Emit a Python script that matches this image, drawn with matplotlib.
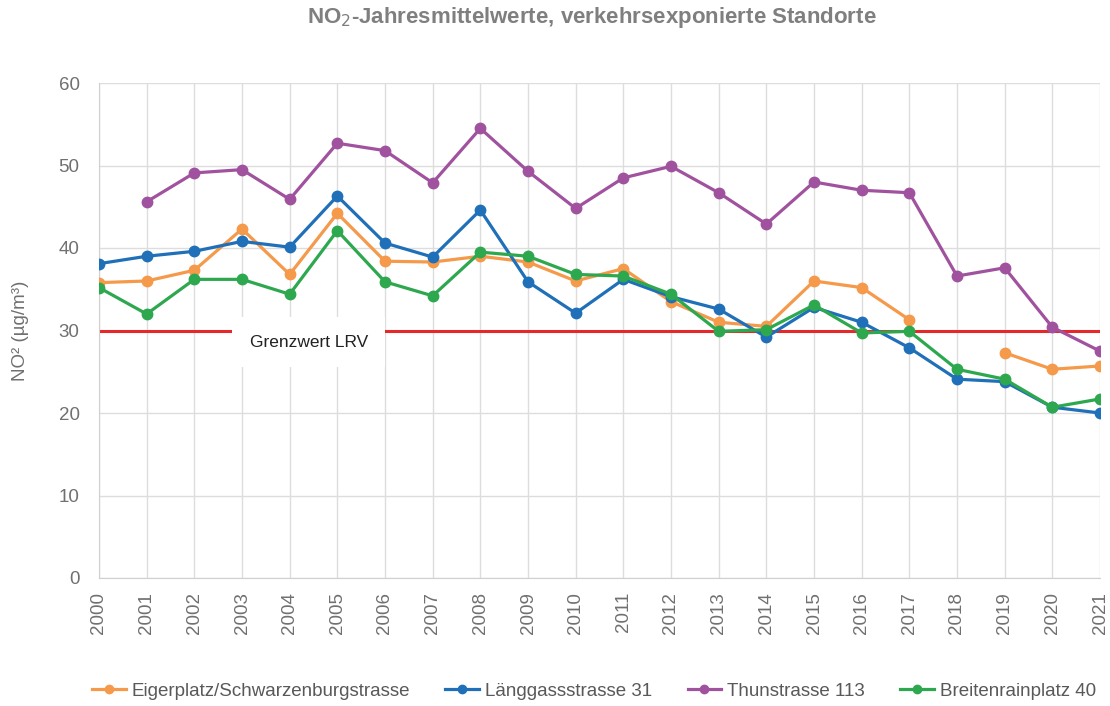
import matplotlib.pyplot as plt
import numpy as np

plt.rcParams['font.family'] = ['Liberation Sans', 'DejaVu Sans']

years = list(range(2000, 2022))

eigerplatz = [35.8, 36.0, 37.3, 42.3, 36.8, 44.2, 38.4, 38.3, 39.0, 38.3, 36.0,
              37.5, 33.5, 31.0, 30.5, 36.0, 35.2, 31.3, np.nan, 27.3, 25.3, 25.7]
laenggass = [38.1, 39.0, 39.6, 40.8, 40.1, 46.3, 40.6, 38.9, 44.6, 35.9, 32.1,
             36.2, 34.1, 32.6, 29.2, 32.8, 31.0, 27.9, 24.1, 23.8, 20.7, 20.0]
thun = [np.nan, 45.6, 49.1, 49.5, 45.9, 52.7, 51.8, 47.9, 54.5, 49.3, 44.8,
        48.5, 49.9, 46.7, 42.9, 48.0, 47.0, 46.7, 36.6, 37.6, 30.4, 27.5]
breitenrain = [35.2, 32.0, 36.2, 36.2, 34.4, 42.1, 35.9, 34.2, 39.5, 39.0, 36.8,
               36.6, 34.4, 29.9, 30.1, 33.1, 29.7, 29.9, 25.3, 24.1, 20.7, 21.7]

names = ['Eigerplatz/Schwarzenburgstrasse', 'Länggassstrasse 31',
         'Thunstrasse 113', 'Breitenrainplatz 40']
colors = ['#F5994B', '#1F70B8', '#A1529F', '#2EA84F']
grenzwert = 30

fig = plt.figure(figsize=(11.1, 7.06), dpi=100)
ax = fig.add_axes([99 / 1110, 1 - 578 / 706, 1001 / 1110, 495 / 706])

# Grenzwert line with a white label box over it
ax.plot([years[0], years[-1]], [grenzwert, grenzwert], color='#E5282A', lw=2.2, zorder=2)
ax.text(2004.4, 28.6, 'Grenzwert LRV', ha='center', va='center', fontsize=12.5,
        color='#222222', zorder=3,
        bbox=dict(boxstyle='square,pad=1.0', fc='white', ec='none'))

for vals, name, c in zip([eigerplatz, laenggass, thun, breitenrain], names, colors):
    ax.plot(years, vals, color=c, lw=2.3, marker='o', markersize=7.5, label=name, zorder=4)

ax.set_xlim(2000, 2021)
ax.set_ylim(0, 60)
ax.set_xticks(years)
ax.set_xticklabels([str(y) for y in years], rotation=90)
ax.set_yticks(range(0, 61, 10))
ax.grid(True, color='#DDDDDD', lw=1)
ax.set_axisbelow(True)
for s in ['top', 'right']:
    ax.spines[s].set_visible(False)
for s in ['left', 'bottom']:
    ax.spines[s].set_color('#D0D0D0')
ax.tick_params(colors='#707070', labelsize=13.5, length=0)
ax.tick_params(axis='y', pad=14)
ax.tick_params(axis='x', pad=10)
ax.set_ylabel('NO² (µg/m³)', color='#707070', fontsize=13.5, labelpad=21)

fig.text(592 / 1110, 1 - 18 / 706, 'NO$_2$-Jahresmittelwerte, verkehrsexponierte Standorte',
         ha='center', va='center', fontsize=16, fontweight='bold', color='#7F7F7F')

fig.legend(loc='center', bbox_to_anchor=(0.535, 1 - 691 / 706), ncol=4, frameon=False,
           fontsize=13.5, labelcolor='#595959', handlelength=1.8, columnspacing=1.9,
           handletextpad=0.3, markerscale=0.8)

fig.savefig('out.png', dpi=100)
